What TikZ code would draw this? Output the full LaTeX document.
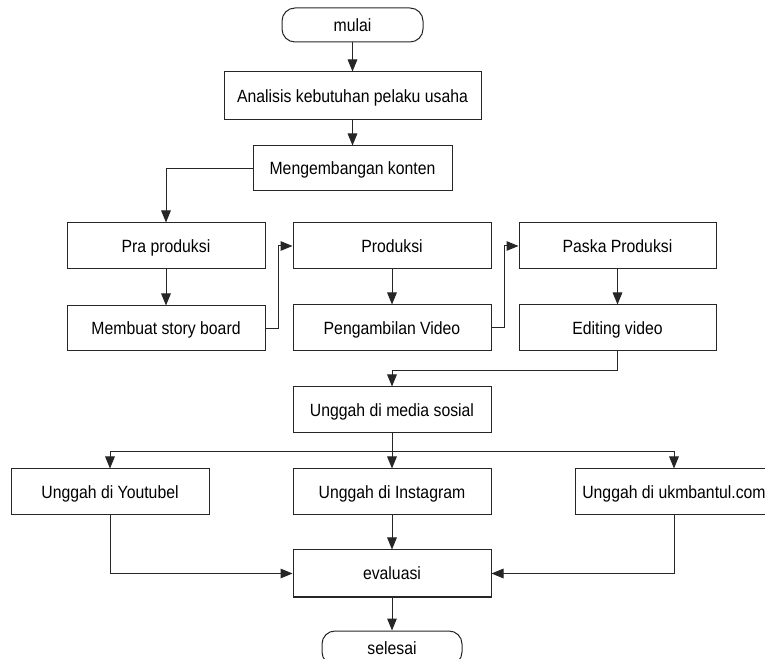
\documentclass[tikz,border=0pt]{standalone}
\usepackage{fontspec}
\setmainfont{Liberation Sans}[FakeStretch=0.89]
\usetikzlibrary{arrows.meta}
\begin{document}
\begin{tikzpicture}[x=0.75pt,y=-0.75pt,
  font=\fontsize{13.3pt}{15pt}\selectfont,
  every node/.style={inner sep=0pt, line width=0.75pt, draw=black!85, text=black},
  box/.style={draw, minimum width=198*0.75pt, minimum height=46*0.75pt, text depth=0.2pt},
  term/.style={draw, rounded corners=13*0.75pt, minimum width=141*0.75pt, minimum height=34*0.75pt},
  conn/.style={line width=0.75pt, draw=black!85, -{Triangle[length=9pt,width=7.2pt]}},
  plain/.style={line width=0.75pt, draw=black!85}]
\clip (0,0) rectangle (765,659);
\node[term] (mulai) at (352.5,25) {mulai};
\node[box, minimum width=257*0.75pt, minimum height=48*0.75pt] (analisis) at (352.5,96) {Analisis kebutuhan pelaku usaha};
\node[box, minimum width=199*0.75pt, minimum height=45*0.75pt] (meng) at (352.5,168.5) {Mengembangan konten};
\node[box] (pra) at (166,246) {Pra produksi};
\node[box, minimum height=45*0.75pt] (membuat) at (166,328.5) {Membuat story board};
\node[box] (prod) at (392,246) {Produksi};
\node[box] (ambil) at (392,328) {Pengambilan Video};
\node[box, minimum width=197*0.75pt] (paska) at (617.5,246) {Paska Produksi};
\node[box, minimum width=197*0.75pt] (edit) at (617.5,328) {Editing video};
\node[box] (media) at (392,410) {Unggah di media sosial};
\node[box] (yt) at (110,492) {Unggah di Youtubel};
\node[box] (ig) at (392,492) {Unggah di Instagram};
\node[box] (ukm) at (674,492) {Unggah di ukmbantul.com};
\node[box, minimum height=47*0.75pt] (eval) at (392,573.5) {evaluasi};
\node[term, minimum width=140*0.75pt] (selesai) at (392,648) {selesai};
\coordinate (split) at (392,452);
\draw[conn] (mulai) -- (analisis);
\draw[conn] (analisis) -- (meng);
\draw[conn] (meng.west) -| (pra.north);
\draw[conn] (pra) -- (membuat);
\draw[conn] (membuat.east) -- ++(13,0) |- (prod.west);
\draw[conn] (prod) -- (ambil);
\draw[conn] (ambil.east) -- ++(13,0) |- (paska.west);
\draw[conn] (paska) -- (edit);
\draw[conn] (edit.south) -- ++(0,19) -| (media.north);
\draw[conn] (media.south) -- (ig.north);
\draw[conn] (split) -| (yt.north);
\draw[conn] (split) -| (ukm.north);
\draw[conn] (ig) -- (eval);
\draw[conn] (yt.south) |- (eval.west);
\draw[conn] (ukm.south) |- (eval.east);
\draw[conn] (eval) -- (selesai);
\end{tikzpicture}
\end{document}
